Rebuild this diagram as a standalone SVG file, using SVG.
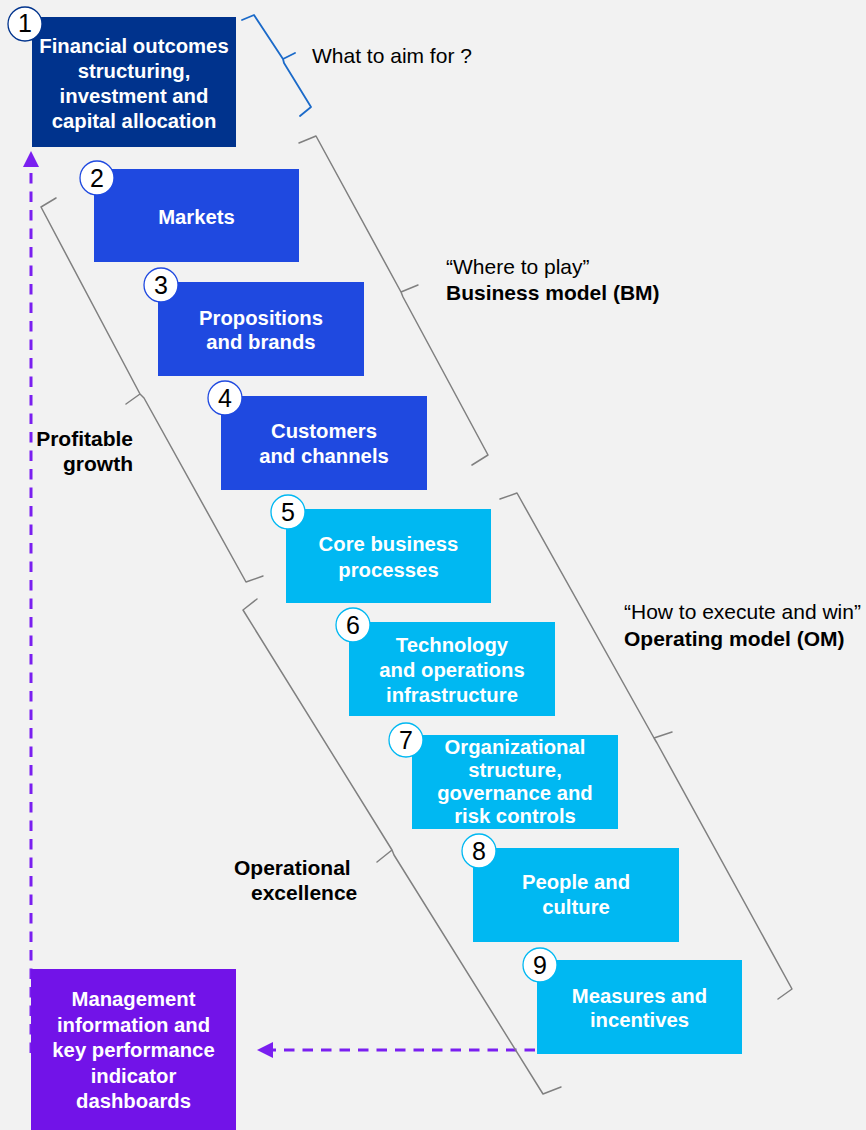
<svg xmlns="http://www.w3.org/2000/svg" width="866" height="1130" viewBox="0 0 866 1130">
  <defs>
    <marker id="arrowHead" markerUnits="userSpaceOnUse" markerWidth="16" markerHeight="16" viewBox="0 0 16 16" refX="0" refY="8" orient="auto">
      <path d="M0,0 L16,8 L0,16 z" fill="#7a1ff0"/>
    </marker>
    <style>
      .bg { fill: #f2f2f2; }
      .box { stroke: none; }
      .navy { fill: #00338d; }
      .blue { fill: #1f49e0; }
      .cyan { fill: #00b8f2; }
      .purple { fill: #7213e8; }
      .label { font-family: "Liberation Sans", Arial, sans-serif; font-size: 20.3px; font-weight: bold; fill: #ffffff; text-anchor: middle; }
      .num { font-family: "Liberation Sans", Arial, sans-serif; font-size: 25px; fill: #000000; text-anchor: middle; }
      .badge { fill: #ffffff; stroke-width: 1.3; }
      .note { font-family: "Liberation Sans", Arial, sans-serif; font-size: 21px; fill: #000000; }
      .noteB { font-family: "Liberation Sans", Arial, sans-serif; font-size: 21px; font-weight: bold; fill: #000000; }
      .brace { fill: none; stroke: #808080; stroke-width: 1.5; stroke-linejoin: round; stroke-linecap: round; }
      .braceBlue { fill: none; stroke: #1b6ac9; stroke-width: 1.8; stroke-linejoin: round; stroke-linecap: round; }
      .flow { fill: none; stroke: #7a1ff0; stroke-width: 3; stroke-dasharray: 10.5 8; marker-end: url(#arrowHead); }
    </style>
  </defs>

  <rect class="bg" x="0" y="0" width="866" height="1130"/>

  <!-- feedback flows -->
  <g id="connectors">
    <line class="flow" x1="31" y1="1053" x2="31" y2="167"/>
    <line class="flow" x1="535" y1="1050" x2="273" y2="1050"/>
  </g>

  <!-- braces and their captions -->
  <g id="braces">
    <path class="braceBlue" d="M242,20 L254,15 L283,59 L295,53 M283,59 L284,63 L311,107 L300,116"/>
    <path class="brace" d="M299,143 L316,136 L401,292 L418,285 M401,292 L403,297 L488,455 L472,465"/>
    <path class="brace" d="M56,198 L41,207 L140,394 L126,404 M140,394 L144,398 L246,582 L263,576"/>
    <path class="brace" d="M500,499 L517,493 L654,738 L672,732 M654,738 L657,743 L792,989 L778,999"/>
    <path class="brace" d="M257,599 L243,610 L392,850 L377,862 M392,850 L394,855 L543,1094 L561,1087"/>
  </g>

  <g id="captions">
    <text class="note" x="312" y="63">What to aim for ?</text>
    <text class="note" x="446" y="274">“Where to play”</text>
    <text class="noteB" x="446" y="300">Business model (BM)</text>
    <text class="note" x="624" y="619">“How to execute and win”</text>
    <text class="noteB" x="624" y="646">Operating model (OM)</text>
    <text class="noteB" x="133" y="446" text-anchor="end">Profitable</text>
    <text class="noteB" x="133" y="471" text-anchor="end">growth</text>
    <text class="noteB" x="234" y="875">Operational</text>
    <text class="noteB" x="251" y="900">excellence</text>
  </g>

  <g id="node1">
    <rect class="box navy" x="32" y="17" width="204" height="130"/>
    <text class="label" x="134" y="53">Financial outcomes</text>
    <text class="label" x="134" y="78">structuring,</text>
    <text class="label" x="134" y="103">investment and</text>
    <text class="label" x="134" y="128">capital allocation</text>
    <circle class="badge" cx="25" cy="24" r="17" stroke="#00338d"/>
    <text class="num" x="25" y="32">1</text>
  </g>

  <g id="node2">
    <rect class="box blue" x="94" y="169" width="205" height="93"/>
    <text class="label" x="196.5" y="224">Markets</text>
    <circle class="badge" cx="97" cy="178" r="17" stroke="#1f49e0"/>
    <text class="num" x="97" y="187">2</text>
  </g>

  <g id="node3">
    <rect class="box blue" x="158" y="282" width="206" height="94"/>
    <text class="label" x="261" y="325">Propositions</text>
    <text class="label" x="261" y="349">and brands</text>
    <circle class="badge" cx="161" cy="285" r="17" stroke="#1f49e0"/>
    <text class="num" x="161" y="294">3</text>
  </g>

  <g id="node4">
    <rect class="box blue" x="221" y="396" width="206" height="94"/>
    <text class="label" x="324" y="438">Customers</text>
    <text class="label" x="324" y="463">and channels</text>
    <circle class="badge" cx="225" cy="398" r="17" stroke="#1f49e0"/>
    <text class="num" x="225" y="407">4</text>
  </g>

  <g id="node5">
    <rect class="box cyan" x="286" y="509" width="205" height="94"/>
    <text class="label" x="388.5" y="551">Core business</text>
    <text class="label" x="388.5" y="577">processes</text>
    <circle class="badge" cx="288" cy="512" r="17" stroke="#00b8f2"/>
    <text class="num" x="288" y="521">5</text>
  </g>

  <g id="node6">
    <rect class="box cyan" x="349" y="622" width="206" height="94"/>
    <text class="label" x="452" y="652">Technology</text>
    <text class="label" x="452" y="677">and operations</text>
    <text class="label" x="452" y="702">infrastructure</text>
    <circle class="badge" cx="353" cy="625" r="17" stroke="#00b8f2"/>
    <text class="num" x="353" y="634">6</text>
  </g>

  <g id="node7">
    <rect class="box cyan" x="412" y="735" width="206" height="94"/>
    <text class="label" x="515" y="754">Organizational</text>
    <text class="label" x="515" y="777">structure,</text>
    <text class="label" x="515" y="800">governance and</text>
    <text class="label" x="515" y="823">risk controls</text>
    <circle class="badge" cx="406" cy="740" r="17" stroke="#00b8f2"/>
    <text class="num" x="406" y="749">7</text>
  </g>

  <g id="node8">
    <rect class="box cyan" x="473" y="848" width="206" height="94"/>
    <text class="label" x="576" y="889">People and</text>
    <text class="label" x="576" y="914">culture</text>
    <circle class="badge" cx="479" cy="851" r="17" stroke="#00b8f2"/>
    <text class="num" x="479" y="860">8</text>
  </g>

  <g id="node9">
    <rect class="box cyan" x="537" y="960" width="205" height="94"/>
    <text class="label" x="639.5" y="1003">Measures and</text>
    <text class="label" x="639.5" y="1027">incentives</text>
    <circle class="badge" cx="540" cy="965" r="17" stroke="#00b8f2"/>
    <text class="num" x="540" y="974">9</text>
  </g>

  <g id="nodeMI">
    <rect class="box purple" x="31" y="969" width="205" height="165"/>
    <text class="label" x="133.5" y="1006">Management</text>
    <text class="label" x="133.5" y="1032">information and</text>
    <text class="label" x="133.5" y="1057">key performance</text>
    <text class="label" x="133.5" y="1083">indicator</text>
    <text class="label" x="133.5" y="1108">dashboards</text>
  </g>
</svg>
